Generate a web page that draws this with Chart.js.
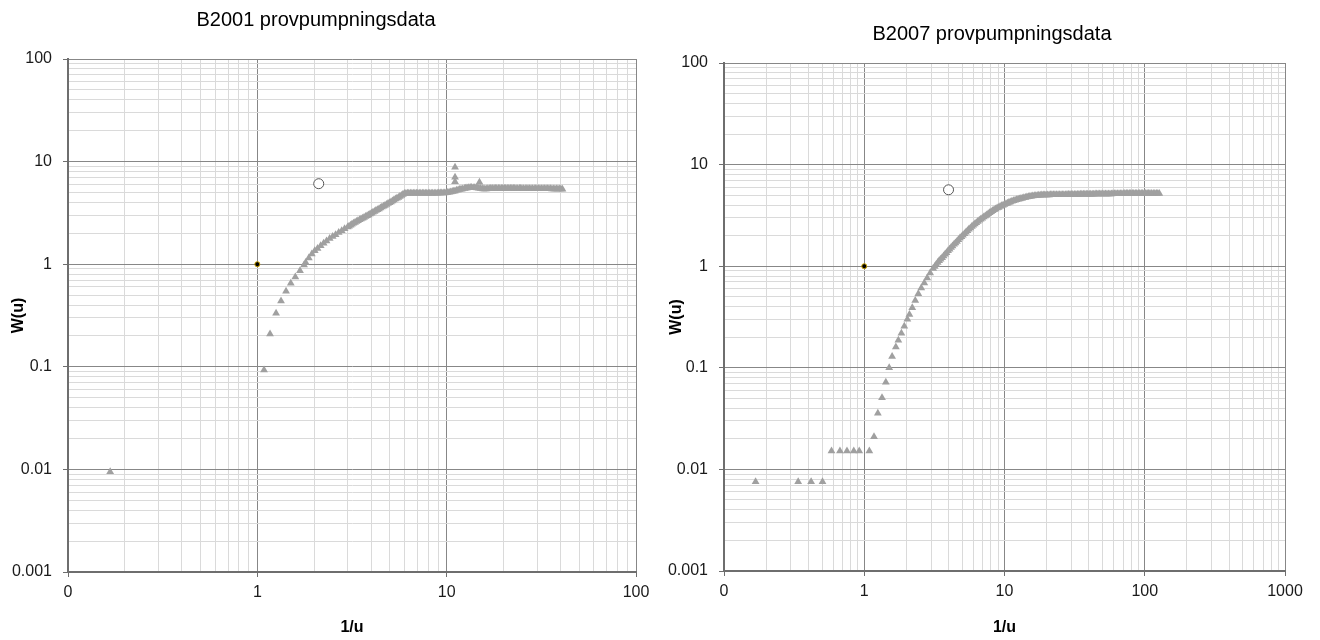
<!DOCTYPE html>
<html>
<head>
<meta charset="utf-8">
<script src="https://cdn.jsdelivr.net/npm/chart.js@4.4.1/dist/chart.umd.min.js"></script>
<style>
html,body{margin:0;padding:0;background:#fff;width:1320px;height:640px;overflow:hidden;position:relative;}
canvas{position:absolute;top:0;}
</style>
</head>
<body>
<canvas id="c1" width="664" height="640" style="left:-4px;width:664px;height:640px"></canvas>
<canvas id="c2" width="660" height="640" style="left:660px;width:660px;height:640px"></canvas>
<script>
// ---------- data ----------
const b2001Title = 'B2001 provpumpningsdata';
const b2007Title = 'B2007 provpumpningsdata';

// B2001: measured data (1/u, W(u))
const b2001InvU = [0.167, 1.085, 1.167, 1.256, 1.334, 1.418, 1.502, 1.587, 1.680, 1.765,
  1.80, 1.87, 1.94, 2.01, 2.08, 2.16, 2.24, 2.32, 2.41, 2.50, 2.59, 2.69, 2.79, 2.89,
  3.00, 3.05, 3.11, 3.16, 3.22, 3.28, 3.34, 3.40, 3.47, 3.53, 3.60, 3.66, 3.73, 3.80, 3.87,
  3.94, 4.01, 4.08, 4.16, 4.23, 4.31, 4.39, 4.47, 4.55, 4.64, 4.72, 4.81, 4.90, 4.99, 5.08,
  5.17, 5.26, 5.36, 5.46, 5.56, 5.66, 5.77, 5.87, 5.98,
  6.09, 6.20, 6.31, 6.43, 6.55, 6.67, 6.79, 6.92, 7.04, 7.17, 7.30, 7.44, 7.57, 7.71, 7.85,
  8.00, 8.14, 8.29, 8.44, 8.60, 8.76, 8.92, 9.08, 9.25, 9.42, 9.59, 9.76, 9.94, 10.1, 10.3,
  10.5, 10.7, 10.9, 11.07, 11.07, 11.07, 11.07, 11.3, 11.5, 11.7, 11.9, 12.1, 12.4, 12.6,
  12.8, 13.0, 13.3, 13.5, 13.8, 14.0, 14.3, 14.5, 14.8, 14.9, 15.1, 15.4, 15.6, 15.9, 16.2,
  16.5, 16.8, 17.1, 17.4, 17.8, 18.1, 18.4, 18.8, 19.1, 19.5, 19.8, 20.2, 20.5, 20.9, 21.3,
  21.7, 22.1, 22.5, 22.9, 23.3, 23.7, 24.2, 24.6, 25.0, 25.5, 26.0, 26.5, 26.9, 27.4, 27.9,
  28.4, 29.0, 29.5, 30.0, 30.6, 31.1, 31.7, 32.3, 32.9, 33.5, 34.1, 34.7, 35.4, 36.0, 36.7,
  37.3, 38.0, 38.7, 39.4, 40.1, 40.9];
const b2001W = [0.0095, 0.093, 0.209, 0.332, 0.437, 0.544, 0.652, 0.750, 0.865, 0.980,
  1.04, 1.15, 1.26, 1.35, 1.42, 1.51, 1.60, 1.68, 1.78, 1.86, 1.94, 2.04, 2.12, 2.21,
  2.31, 2.35, 2.40, 2.45, 2.51, 2.55, 2.60, 2.65, 2.71, 2.76, 2.81, 2.86, 2.91, 2.96, 3.02,
  3.08, 3.14, 3.20, 3.27, 3.33, 3.40, 3.46, 3.53, 3.60, 3.67, 3.74, 3.82, 3.90, 3.98, 4.05,
  4.13, 4.22, 4.31, 4.39, 4.48, 4.58, 4.68, 4.78, 4.88,
  4.90, 4.92, 4.91, 4.92, 4.92, 4.91, 4.92, 4.92, 4.91, 4.92, 4.92, 4.91, 4.92, 4.92, 4.91,
  4.92, 4.92, 4.91, 4.92, 4.92, 4.92, 4.92, 4.93, 4.93, 4.94, 4.94, 4.95, 4.96, 4.99, 5.02,
  5.06, 5.10, 5.14, 5.18, 6.37, 7.03, 8.80, 5.25, 5.30, 5.34, 5.38, 5.42, 5.46, 5.49,
  5.52, 5.55, 5.58, 5.58, 5.57, 5.56, 5.55, 5.53, 5.50, 6.30, 5.47, 5.45, 5.42, 5.40, 5.41,
  5.43, 5.45, 5.46, 5.47, 5.47, 5.47, 5.47, 5.46, 5.46, 5.47, 5.47, 5.46, 5.46, 5.47, 5.47,
  5.46, 5.46, 5.46, 5.46, 5.45, 5.45, 5.46, 5.46, 5.45, 5.45, 5.45, 5.45, 5.44, 5.44, 5.45,
  5.45, 5.44, 5.44, 5.44, 5.44, 5.43, 5.43, 5.44, 5.44, 5.43, 5.43, 5.43, 5.43, 5.42, 5.42,
  5.42, 5.42, 5.41, 5.41, 5.40, 5.38];
// B2001: match point and type-curve point
const b2001MatchInvU = [1];
const b2001MatchW = [1];
const b2001CurveInvU = [2.11];
const b2001CurveW = [6.09];

// B2007: measured data (1/u, W(u))
const b2007InvU = [0.168, 0.338, 0.418, 0.504, 0.584, 0.671, 0.753, 0.842, 0.921, 1.087,
  1.174, 1.250, 1.339, 1.425, 1.506, 1.580, 1.680, 1.750, 1.840, 1.930, 2.03, 2.10, 2.20,
  2.31, 2.43, 2.55, 2.68, 2.81, 2.95,
  3.10, 3.18, 3.26, 3.34, 3.42, 3.50, 3.59, 3.68, 3.77, 3.86, 3.96, 4.06, 4.16, 4.26, 4.37,
  4.47, 4.58, 4.69, 4.81, 4.93,
  5.05, 5.18, 5.31, 5.44, 5.57, 5.71, 5.85, 5.99, 6.14, 6.29, 6.45, 6.61, 6.77, 6.94, 7.11,
  7.29, 7.47, 7.65, 7.84, 8.03, 8.23, 8.43, 8.64, 8.86, 9.08, 9.30, 9.53, 9.76,
  10.0, 10.25, 10.5, 10.75, 11.0, 11.3, 11.6, 11.9, 12.2, 12.5, 12.8, 13.1, 13.4, 13.75, 14.1,
  14.45, 14.8, 15.15, 15.5, 15.9, 16.3, 16.7, 17.1, 17.55, 18.0, 18.45, 18.9, 19.35, 19.8,
  20.3, 20.8, 21.3, 21.8, 22.35, 22.9, 23.5, 24.1, 24.7, 25.3, 25.9, 26.5, 27.2, 27.9, 28.6,
  29.3, 30.0, 30.7, 31.5, 32.3, 33.1, 33.9, 34.7, 35.6, 36.5, 37.4, 38.3, 39.2, 40.2, 41.2,
  42.2, 43.2, 44.3, 45.4, 46.5, 47.7, 48.8, 50.0, 51.2, 52.5, 53.8, 55.2, 56.5, 57.9, 59.3,
  60.8, 62.3, 63.9, 65.5, 67.1, 68.7, 70.4, 72.1, 73.9, 75.7, 77.6, 79.5, 81.5, 83.5, 85.6,
  87.7, 89.9, 92.1, 94.4, 96.7, 99.1, 101.5, 104, 106.5, 109, 112, 115, 118, 121, 124, 127];
const b2007W = [0.00755, 0.00755, 0.00755, 0.00755, 0.0152, 0.0152, 0.0152, 0.0152, 0.0152, 0.0152,
  0.0209, 0.0358, 0.0508, 0.0721, 0.100, 0.129, 0.160, 0.187, 0.219, 0.256, 0.300, 0.335, 0.390,
  0.460, 0.535, 0.610, 0.685, 0.765, 0.855,
  0.950, 0.995, 1.04, 1.085, 1.13, 1.17, 1.21, 1.26, 1.31, 1.36, 1.42, 1.47, 1.53, 1.58, 1.64,
  1.69, 1.75, 1.82, 1.89, 1.95,
  2.02, 2.09, 2.16, 2.23, 2.31, 2.38, 2.46, 2.53, 2.60, 2.67, 2.75, 2.83, 2.90, 2.97, 3.05,
  3.12, 3.20, 3.28, 3.36, 3.44, 3.52, 3.59, 3.66, 3.73, 3.79, 3.86, 3.93, 3.99,
  4.05, 4.11, 4.17, 4.23, 4.29, 4.35, 4.40, 4.45, 4.50, 4.55, 4.59, 4.63, 4.67, 4.71, 4.75,
  4.79, 4.82, 4.85, 4.88, 4.91, 4.93, 4.95, 4.97, 4.99, 5.00, 5.01, 5.02, 5.02, 5.03,
  5.03, 5.03, 5.04, 5.04, 5.04, 5.04, 5.05, 5.05, 5.05, 5.05, 5.06, 5.06, 5.06, 5.07, 5.07,
  5.07, 5.08, 5.08, 5.08, 5.09, 5.09, 5.09, 5.10, 5.10, 5.10, 5.11, 5.11, 5.11, 5.12, 5.12,
  5.12, 5.12, 5.13, 5.13, 5.13, 5.13, 5.14, 5.14, 5.14, 5.14, 5.15, 5.15, 5.15, 5.15, 5.16,
  5.16, 5.16, 5.16, 5.17, 5.17, 5.17, 5.17, 5.18, 5.18, 5.18, 5.18, 5.18, 5.18, 5.19, 5.19,
  5.19, 5.19, 5.19, 5.19, 5.20, 5.20, 5.20, 5.20, 5.20, 5.20, 5.20, 5.20, 5.20, 5.20, 5.20, 5.19];
const b2007MatchInvU = [1];
const b2007MatchW = [1];
const b2007CurveInvU = [3.99];
const b2007CurveW = [5.65];

// tick labels
const yTickValues = [0.001, 0.01, 0.1, 1, 10, 100];
const yTickLabels = ['0.001', '0.01', '0.1', '1', '10', '100'];
const x1TickValues = [0.1, 1, 10, 100];
const x1TickLabels = ['0', '1', '10', '100'];
const x2TickValues = [0.1, 1, 10, 100, 1000];
const x2TickLabels = ['0', '1', '10', '100', '1000'];
const xAxisTitle = '1/u';
const yAxisTitle = 'W(u)';

// ---------- rendering ----------
const FONT = "'Liberation Sans', Arial, Helvetica, sans-serif";
const TRI = '#a0a0a0';

function pts(xs, ys) { return xs.map((x, i) => ({x: x, y: ys[i]})); }
function isDecade(v) { const l = Math.log10(v); return Math.abs(l - Math.round(l)) < 1e-6; }
function buildLogTicks(min, max) {
  const out = [];
  const e0 = Math.round(Math.log10(min)), e1 = Math.round(Math.log10(max));
  for (let e = e0; e < e1; e++) {
    for (let m = 1; m <= 9; m++) {
      out.push({value: parseFloat((m * Math.pow(10, e)).toPrecision(8)), major: m === 1});
    }
  }
  out.push({value: max, major: true});
  return out;
}
function labelFor(values, labels) {
  return function (v) {
    for (let i = 0; i < values.length; i++) {
      if (Math.abs(Math.log10(values[i]) - Math.log10(v)) < 1e-6) return labels[i];
    }
    return '';
  };
}
const gridColor = ctx => (ctx.tick && isDecade(ctx.tick.value)) ? '#878787' : '#dadada';
const tickColor = ctx => (ctx.tick && isDecade(ctx.tick.value)) ? '#6e6e6e' : 'rgba(0,0,0,0)';

function makeChart(id, o) {
  return new Chart(document.getElementById(id), {
    type: 'scatter',
    data: {
      datasets: [
        {label: 'Data', data: pts(o.x, o.y), pointStyle: 'triangle', pointRadius: 4.5,
         backgroundColor: TRI, borderColor: TRI, borderWidth: 0},
        {label: 'Matchpunkt', data: pts(o.mx, o.my), pointStyle: 'circle', pointRadius: 2.5,
         backgroundColor: '#000', borderColor: '#c9a000', borderWidth: 1},
        {label: 'Typkurva', data: pts(o.cx, o.cy), pointStyle: 'circle', pointRadius: 5,
         backgroundColor: '#fff', borderColor: '#555', borderWidth: 1}
      ]
    },
    options: {
      responsive: false,
      animation: false,
      events: [],
      layout: {padding: o.padding},
      plugins: {
        legend: {display: false},
        tooltip: {enabled: false},
        title: {display: true, text: o.title, color: '#000',
                font: {family: FONT, size: 20, weight: 'normal', lineHeight: 1.2},
                padding: o.titlePadding}
      },
      scales: {
        x: {
          type: 'logarithmic', min: o.xTickValues[0], max: o.xTickValues[o.xTickValues.length - 1],
          afterBuildTicks: s => { s.ticks = buildLogTicks(s.min, s.max); },
          afterFit: s => { s.height = o.xAxisH; s.paddingLeft = 0; s.paddingRight = o.xPadRight; },
          ticks: {autoSkip: false, maxRotation: 0, minRotation: 0, padding: 6, color: '#1a1a1a',
                  font: {family: FONT, size: 16}, callback: labelFor(o.xTickValues, o.xTickLabels)},
          grid: {color: gridColor, tickColor: tickColor, tickLength: 5, lineWidth: 1},
          border: {color: '#6e6e6e', width: 2},
          title: {display: true, text: xAxisTitle, color: '#000',
                  font: {family: FONT, size: 16, weight: 'bold', lineHeight: 1.2},
                  padding: {top: 0, bottom: 3}}
        },
        y: {
          type: 'logarithmic', min: yTickValues[0], max: yTickValues[yTickValues.length - 1],
          afterBuildTicks: s => { s.ticks = buildLogTicks(s.min, s.max); },
          afterFit: s => { s.width = o.yAxisW; s.paddingTop = 0; s.paddingBottom = 0; },
          ticks: {autoSkip: false, padding: 11, color: '#1a1a1a',
                  font: {family: FONT, size: 16}, callback: labelFor(yTickValues, yTickLabels)},
          grid: {color: gridColor, tickColor: tickColor, tickLength: 5, lineWidth: 1},
          border: {color: '#6e6e6e', width: 2},
          title: {display: true, text: yAxisTitle, color: '#000',
                  font: {family: FONT, size: 16, weight: 'bold', lineHeight: 1.2},
                  padding: {top: o.yTitlePad, bottom: 0}}
        }
      }
    }
  });
}

makeChart('c1', {
  title: b2001Title,
  x: b2001InvU, y: b2001W, mx: b2001MatchInvU, my: b2001MatchW, cx: b2001CurveInvU, cy: b2001CurveW,
  xTickValues: x1TickValues, xTickLabels: x1TickLabels,
  padding: {left: 0, right: 24, top: 0, bottom: 0},
  titlePadding: {top: 8, bottom: 27},
  yAxisW: 72, xAxisH: 68, yTitlePad: 13, xPadRight: 0
});
makeChart('c2', {
  title: b2007Title,
  x: b2007InvU, y: b2007W, mx: b2007MatchInvU, my: b2007MatchW, cx: b2007CurveInvU, cy: b2007CurveW,
  xTickValues: x2TickValues, xTickLabels: x2TickLabels,
  padding: {left: 4, right: 0, top: 0, bottom: 0},
  titlePadding: {top: 22, bottom: 17},
  yAxisW: 60, xAxisH: 69, yTitlePad: 3, xPadRight: 35
});
</script>
</body>
</html>
